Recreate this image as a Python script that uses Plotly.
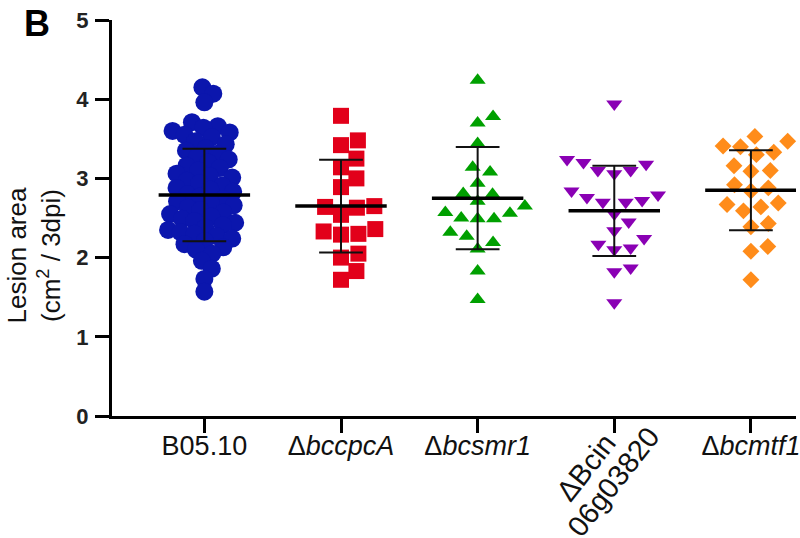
import numpy as np
import plotly.graph_objects as go

# ---------------- data ----------------
categories = ["B05.10", "Δ<i>bccpcA</i>", "Δ<i>bcsmr1</i>", "ΔBcin<br>06g03820", "Δ<i>bcmtf1</i>"]
rotated_lines = ["ΔBcin", "06g03820"]

b0510 = [4.15, 4.07, 3.96, 3.71, 3.66, 3.64, 3.60, 3.58, 3.55, 3.52, 3.47, 3.43,
         3.38, 3.35, 3.31, 3.27, 3.24, 3.20, 3.16, 3.13, 3.10, 3.06, 3.03, 3.01,
         2.97, 2.94, 2.91, 2.88, 2.86, 2.83, 2.80, 2.77, 2.74, 2.71, 2.69, 2.66,
         2.63, 2.60, 2.57, 2.55, 2.52, 2.49, 2.46, 2.44, 2.41, 2.38, 2.35, 2.32,
         2.30, 2.27, 2.24, 2.21, 2.17, 2.13, 2.10, 2.05, 1.96, 1.86, 1.73, 1.57]
bccpca = [3.79, 3.48, 3.42, 3.25, 3.14, 3.00, 2.89, 2.65, 2.63, 2.64, 2.54, 2.29,
          2.30, 2.33, 2.36, 2.00, 2.05, 1.83, 1.72]
bcsmr1 = [4.24, 3.78, 3.70, 3.44, 3.14, 3.08, 2.94, 2.81, 2.80, 2.71, 2.65, 2.56,
          2.57, 2.50, 2.49, 2.49, 2.32, 2.27, 2.19, 2.11, 1.83, 1.47]
bcin = [3.94, 3.24, 3.20, 3.18, 3.10, 3.06, 3.10, 2.84, 2.76, 2.79, 2.70, 2.70,
        2.72, 2.55, 2.45, 2.34, 2.24, 2.17, 2.10, 2.12, 1.87, 1.82, 1.43]
bcmtf1 = [3.53, 3.47, 3.40, 3.41, 3.33, 3.30, 3.16, 3.10, 3.09, 2.92, 2.88, 2.84,
          2.69, 2.67, 2.64, 2.59, 2.43, 2.39, 2.14, 2.08, 1.72]

means = [2.79, 2.65, 2.75, 2.59, 2.85]
sds = [0.585, 0.585, 0.645, 0.57, 0.505]

groups = [b0510, bccpca, bcsmr1, bcin, bcmtf1]
colors = ["#0b16ad", "#e2001a", "#00a000", "#8a00b4", "#ff8c1a"]
symbols = ["circle", "square", "triangle-up", "triangle-down", "diamond"]
msizes = [18, 16, 14, 14, 13]
swarm_d = [12.5, 17.5, 16.5, 16.5, 17.5]

# ---------------- layout geometry ----------------
W, H = 800, 538
ML, MR, MT, MB = 112, 0, 20, 122
XR = [-0.676, 4.33]
YR = [0, 5]
PW, PH = W - ML - MR, H - MT - MB
px_x = PW / (XR[1] - XR[0])
px_y = PH / (YR[1] - YR[0])


def paper_x(px):
    return (px - ML) / PW


def paper_y(py):
    return (H - MB - py) / PH


def swarm(vals, d):
    vals = np.asarray(vals, float)
    order = np.argsort(vals)
    placed = []
    offs = np.zeros(len(vals))
    cands = [0.0]
    for k in range(1, 400):
        cands += [k * 0.5, -k * 0.5]
    for i in order:
        y = vals[i] * px_y
        for c in cands:
            if all((c - a) ** 2 + (y - b) ** 2 >= d * d for a, b in placed):
                break
        placed.append((c, y))
        offs[i] = c
    return offs / px_x


fig = go.Figure()
for gi, vals in enumerate(groups):
    xs = gi + swarm(vals, swarm_d[gi])
    fig.add_trace(go.Scatter(
        x=xs, y=vals, mode="markers", cliponaxis=False,
        marker=dict(symbol=symbols[gi], size=msizes[gi], color=colors[gi],
                    line=dict(width=0)),
        showlegend=False, hoverinfo="y"))

# mean and SD lines
mean_half = 46 / px_x
cap_half = 22 / px_x
mx, my, sx, sy = [], [], [], []
for gi, (m, s) in enumerate(zip(means, sds)):
    mx += [gi - mean_half, gi + mean_half, None]
    my += [m, m, None]
    sx += [gi, gi, None, gi - cap_half, gi + cap_half, None, gi - cap_half, gi + cap_half, None]
    sy += [m - s, m + s, None, m + s, m + s, None, m - s, m - s, None]
fig.add_trace(go.Scatter(x=sx, y=sy, mode="lines", line=dict(color="#111111", width=2),
                         showlegend=False, hoverinfo="skip", cliponaxis=False))
fig.add_trace(go.Scatter(x=mx, y=my, mode="lines", line=dict(color="#000000", width=3.5),
                         showlegend=False, hoverinfo="skip", cliponaxis=False))

ticktext = [c if i != 3 else " " for i, c in enumerate(categories)]

annotations = [
    dict(text="<b>B</b>", xref="paper", yref="paper",
         x=paper_x(37), y=paper_y(24),
         showarrow=False, font=dict(size=36, color="black"),
         xanchor="center", yanchor="middle"),
    dict(text="Lesion area<br>(cm<sup>2</sup> / 3dpi)", xref="paper", yref="paper",
         x=paper_x(34), y=paper_y(255),
         textangle=-90, showarrow=False, font=dict(size=26, color="#111111"),
         xanchor="center", yanchor="middle"),
]
# rotated two-line label of the 4th category
for txt, (cx, cy) in zip(rotated_lines, [(589, 467), (616, 482)]):
    annotations.append(dict(text=txt, xref="paper", yref="paper",
                            x=paper_x(cx), y=paper_y(cy), textangle=-52,
                            showarrow=False, font=dict(size=29, color="#111111"),
                            xanchor="center", yanchor="middle"))

fig.update_layout(
    width=W, height=H,
    margin=dict(l=ML, r=MR, t=MT, b=MB),
    paper_bgcolor="white", plot_bgcolor="white",
    font=dict(family="Liberation Sans, Arial, sans-serif", color="black"),
    xaxis=dict(range=XR, tickvals=list(range(5)), ticktext=ticktext,
               showgrid=False, zeroline=False, showline=True, linewidth=3,
               linecolor="black", ticks="outside", ticklen=14, tickwidth=3,
               tickcolor="black", tickfont=dict(size=27, color="#111111"),
               tickangle=0, ticklabeloverflow="allow", ticklabelstandoff=-10,
               fixedrange=True),
    yaxis=dict(range=YR, tickvals=[0, 1, 2, 3, 4, 5], showgrid=False,
               zeroline=False, showline=True, linewidth=3, linecolor="black",
               ticks="outside", ticklen=14, tickwidth=3, tickcolor="black",
               tickfont=dict(size=22, color="#222222", weight="bold"),
               ticklabelstandoff=2, fixedrange=True),
    annotations=annotations,
)

fig.write_html("out.html")
